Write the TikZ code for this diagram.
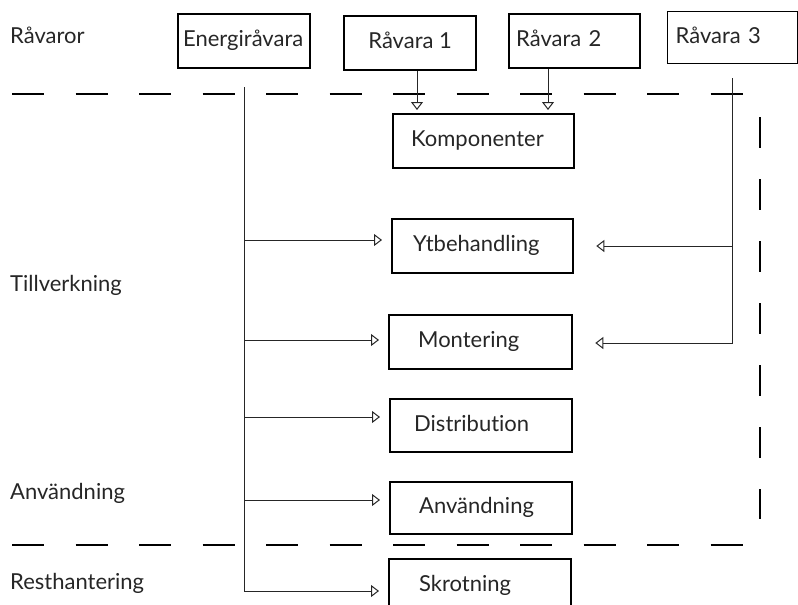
\documentclass[tikz,border=0pt]{standalone}
\usepackage{fontspec}
\setmainfont{Lato}[Ligatures=NoCommon]
\usetikzlibrary{positioning, arrows.meta, calc}

\begin{document}
\begin{tikzpicture}[
  x=1pt, y=-1pt,
  font=\fontsize{22}{26}\selectfont,
  arr/.style={-{Triangle[open, length=8pt, width=12pt]}, line width=1pt, draw=black!85},
  trunk/.style={line width=1pt, draw=black!85},
  blk/.style={draw=black, line width=2.3pt, rectangle, anchor=north west, align=left,
              inner ysep=0pt, text height=16pt, text depth=5pt, text=black!85},
  divider/.style={line width=2.5pt, draw=black, dash pattern=on 32pt off 31.5pt},
  vdivider/.style={line width=2.5pt, draw=black, dash pattern=on 31pt off 31pt},
  lab/.style={anchor=base west, inner sep=0pt, text=black!85}
]
\useasboundingbox (0,0) rectangle (798,605);

% ================= RAW MATERIALS =================
\node[blk, minimum width=132pt, minimum height=54pt, inner xsep=5pt, text width=122pt]
  (ener) at (177,13) {Energiråvara};
\node[blk, minimum width=132pt, minimum height=54pt, inner xsep=0pt]
  (r1) at (343,15) {Råvara 1};
\node[blk, minimum width=131pt, minimum height=54pt, inner xsep=7pt, text width=117pt]
  (r2) at (508,13) {Råvara 2};
\node[blk, line width=1.4pt, minimum width=130pt, minimum height=52pt, inner xsep=8pt,
      text width=114pt] (r3) at (667,11) {Råvara 3};

% ================= PROCESS STEPS =================
\node[blk, minimum width=181pt, minimum height=54pt, inner xsep=18pt, text width=145pt]
  (komp) at (392,113) {Komponenter};
\node[blk, minimum width=181pt, minimum height=54pt, inner xsep=21pt, text width=139pt]
  (ytb) at (391,218) {Ytbehandling};
\node[blk, minimum width=183pt, minimum height=54pt, inner xsep=29pt, text width=125pt]
  (mont) at (388,314) {Montering};
\node[blk, minimum width=182pt, minimum height=53pt, inner xsep=24pt, text width=134pt]
  (dist) at (389,398) {Distribution};
\node[blk, minimum width=182pt, minimum height=52pt, inner xsep=29pt, text width=124pt]
  (anv) at (389,481) {Användning};
\node[blk, minimum width=182pt, minimum height=54pt, inner xsep=30pt, text width=122pt]
  (skrot) at (388,558) {Skrotning};

% ================= PHASE LABELS =================
\node[lab] (lraw) at (10,43) {Råvaror};
\node[lab] (lprod) at (10,291) {Tillverkning};
\node[lab] (luse) at (10,499) {Användning};
\node[lab] (lrest) at (10,589) {Resthantering};

% ================= DIVIDERS =================
\draw[divider] (12,94) -- (744,94);
\draw[divider] (12,545) -- (744,545);
\draw[vdivider] (760,117) -- (760,519);

% ================= ENERGY TRUNK =================
\coordinate (etop) at ($(ener.south)+(0,18)$);
\coordinate (ebot) at (etop |- 0,591);
\draw[trunk] (etop) -- (ebot);
\foreach \b/\yy in {ytb/240, mont/340, dist/417, anv/500, skrot/591}
  \draw[arr, shorten >=9pt] (etop |- 0,\yy) -- (\b.west |- 0,\yy);

% ================= RAW MATERIAL 3 =================
\coordinate (rtop) at ($(r3.south)+(0,14)$);
\coordinate (rbot) at (rtop |- 0,343);
\draw[trunk] (rtop) -- (rbot);
\draw[arr, shorten >=22pt] (rtop |- 0,246) -- (ytb.east |- 0,246);
\draw[arr, shorten >=22pt] (rbot) -- (mont.east |- rbot);

% ================= RAW MATERIALS 1 AND 2 =================
\coordinate (k1) at (komp.north -| 417,0);
\coordinate (k2) at (komp.north -| 548,0);
\draw[arr, shorten >=3pt] (r1.south -| k1) -- (k1);
\draw[arr, shorten >=3pt] (r2.south -| k2) -- (k2);
\end{tikzpicture}
\end{document}
